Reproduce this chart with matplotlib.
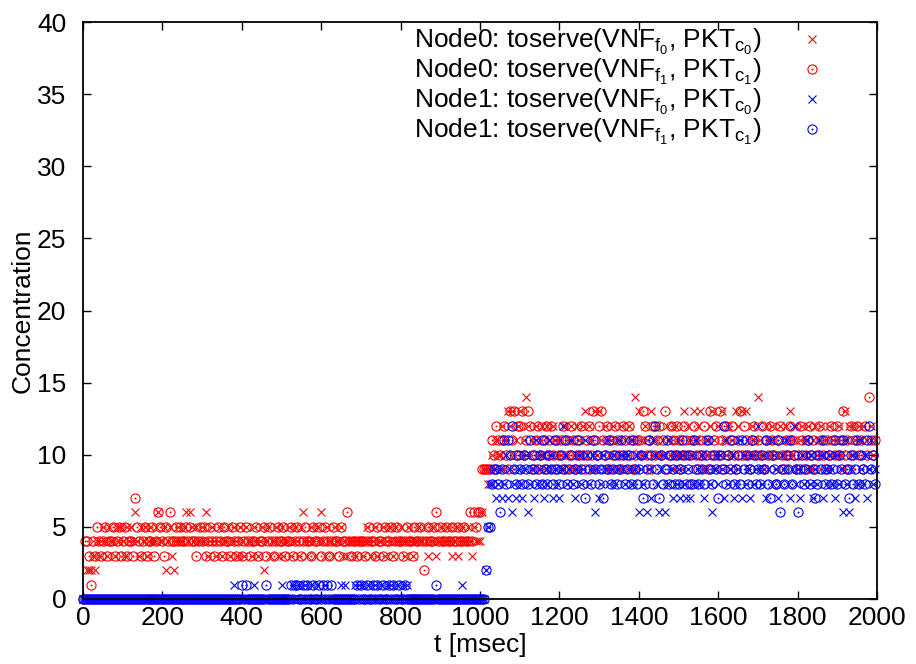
import numpy as np
import matplotlib
matplotlib.use("Agg")
import matplotlib.pyplot as plt
from matplotlib.legend_handler import HandlerTuple

plt.rcParams["font.family"] = ["Liberation Sans", "DejaVu Sans"]
plt.rcParams["mathtext.fontset"] = "custom"
plt.rcParams["mathtext.rm"] = "Liberation Sans"
plt.rcParams["mathtext.it"] = "Liberation Sans"
plt.rcParams["mathtext.default"] = "regular"

# sampling instants, one every 5 msec (each row below covers 100 msec)
t_msec = np.arange(0, 2000, 5)

# Node0: toserve(VNF_f0, PKT_c0)
node0_f0 = [
    0, 0, 2, 2, 2, 3, 2, 4, 3, 4, 5, 4, 3, 5, 4, 4, 3, 5, 4, 5,
    4, 3, 5, 4, 5, 4, 6, 4, 3, 5, 4, 5, 3, 4, 5, 4, 4, 5, 6, 4,
    4, 5, 2, 4, 5, 3, 2, 4, 5, 4, 4, 5, 6, 4, 6, 5, 4, 5, 4, 4,
    5, 4, 6, 3, 4, 5, 4, 3, 4, 5, 3, 4, 4, 5, 3, 4, 5, 4, 3, 5,
    4, 3, 5, 4, 4, 3, 5, 4, 3, 4, 5, 2, 4, 5, 3, 4, 4, 5, 3, 4,
    5, 3, 4, 4, 5, 3, 4, 5, 4, 3, 5, 6, 4, 3, 4, 5, 4, 3, 5, 4,
    6, 4, 3, 5, 4, 4, 3, 5, 4, 4, 5, 3, 4, 3, 4, 4, 4, 3, 4, 4,
    4, 3, 4, 5, 4, 3, 4, 5, 3, 4, 4, 5, 3, 4, 5, 4, 3, 5, 4, 4,
    5, 4, 3, 4, 5, 4, 3, 4, 4, 5, 4, 4, 5, 4, 3, 4, 5, 4, 3, 4,
    4, 5, 4, 4, 5, 4, 3, 4, 5, 3, 4, 5, 4, 4, 5, 4, 3, 5, 4, 4,
    4, 6, 9, 9, 8, 9, 10, 9, 11, 10, 10, 12, 9, 11, 13, 12, 13, 10, 11, 12,
    13, 10, 11, 14, 12, 10, 11, 9, 12, 10, 11, 12, 10, 9, 12, 11, 10, 12, 11, 10,
    11, 10, 9, 12, 10, 11, 12, 9, 10, 12, 11, 10, 12, 13, 10, 12, 11, 9, 13, 10,
    13, 11, 10, 12, 9, 10, 11, 12, 10, 11, 9, 12, 10, 11, 10, 12, 9, 11, 14, 10,
    13, 11, 10, 12, 11, 9, 13, 10, 11, 12, 10, 9, 11, 10, 12, 11, 10, 9, 12, 11,
    10, 11, 9, 13, 10, 12, 11, 10, 13, 11, 12, 13, 10, 9, 11, 10, 12, 13, 11, 9,
    12, 10, 13, 11, 10, 12, 9, 11, 10, 13, 12, 11, 13, 10, 13, 11, 10, 12, 11, 10,
    14, 11, 10, 9, 12, 11, 10, 12, 11, 9, 10, 12, 11, 10, 12, 11, 13, 10, 11, 12,
    9, 11, 12, 10, 11, 12, 10, 9, 11, 12, 10, 11, 12, 10, 11, 9, 12, 10, 11, 10,
    11, 12, 10, 9, 13, 11, 12, 10, 12, 11, 10, 12, 11, 12, 10, 11, 9, 12, 10, 11,
]

# Node0: toserve(VNF_f1, PKT_c1)
node0_f1 = [
    0, 4, 4, 3, 1, 4, 3, 5, 4, 3, 4, 5, 3, 4, 4, 5, 3, 4, 5, 3,
    4, 5, 3, 4, 4, 3, 7, 5, 4, 3, 4, 5, 3, 4, 4, 5, 3, 4, 6, 5,
    4, 3, 5, 4, 6, 4, 4, 5, 4, 5, 4, 4, 5, 4, 5, 4, 4, 3, 4, 5,
    4, 5, 3, 4, 5, 4, 3, 4, 5, 4, 3, 5, 4, 4, 3, 5, 4, 3, 4, 5,
    3, 4, 5, 4, 3, 4, 4, 5, 3, 4, 4, 5, 3, 4, 5, 4, 3, 4, 5, 4,
    4, 5, 3, 4, 4, 5, 3, 4, 5, 4, 3, 4, 5, 4, 4, 3, 5, 4, 4, 5,
    3, 4, 5, 4, 3, 4, 5, 4, 4, 3, 5, 4, 4, 6, 4, 3, 4, 4, 3, 4,
    4, 4, 3, 4, 5, 4, 4, 3, 5, 4, 4, 3, 5, 4, 4, 5, 3, 4, 5, 4,
    4, 3, 4, 5, 4, 4, 3, 5, 4, 4, 5, 4, 2, 4, 5, 4, 4, 5, 6, 4,
    5, 4, 4, 5, 4, 4, 5, 4, 4, 5, 4, 4, 5, 4, 4, 6, 4, 6, 5, 6,
    6, 9, 9, 9, 9, 9, 11, 10, 12, 11, 10, 11, 12, 10, 9, 13, 11, 13, 10, 12,
    12, 13, 10, 11, 13, 12, 10, 9, 11, 12, 10, 11, 9, 12, 10, 11, 12, 10, 9, 11,
    10, 11, 12, 9, 11, 10, 12, 11, 9, 10, 11, 12, 10, 9, 11, 12, 10, 13, 11, 10,
    12, 13, 11, 10, 12, 9, 11, 10, 12, 11, 10, 9, 12, 11, 10, 12, 11, 9, 10, 11,
    11, 10, 13, 12, 10, 11, 9, 12, 10, 11, 12, 10, 11, 13, 9, 10, 12, 11, 10, 12,
    11, 9, 10, 12, 11, 10, 8, 11, 12, 10, 9, 11, 10, 12, 11, 9, 13, 10, 11, 12,
    10, 13, 11, 9, 12, 10, 11, 12, 10, 9, 11, 13, 10, 12, 11, 10, 9, 11, 12, 10,
    11, 10, 12, 9, 11, 10, 12, 11, 10, 8, 11, 12, 10, 9, 11, 10, 12, 11, 10, 9,
    10, 12, 11, 9, 10, 11, 12, 10, 11, 9, 10, 12, 11, 10, 9, 11, 10, 12, 11, 10,
    12, 10, 11, 13, 10, 11, 9, 12, 10, 11, 12, 10, 11, 9, 12, 10, 14, 11, 10, 11,
]

# Node1: toserve(VNF_f0, PKT_c0)
node1_f0 = [
    0, 0, 0, 0, 0, 0, 0, 0, 0, 0, 0, 0, 0, 0, 0, 0, 0, 0, 0, 0,
    0, 0, 0, 0, 0, 0, 0, 0, 0, 0, 0, 0, 0, 0, 0, 0, 0, 0, 0, 0,
    0, 0, 0, 0, 0, 0, 0, 0, 0, 0, 0, 0, 0, 0, 0, 0, 0, 0, 0, 0,
    0, 0, 0, 0, 0, 0, 0, 0, 0, 0, 0, 0, 0, 0, 0, 0, 1, 0, 0, 0,
    0, 0, 0, 0, 0, 0, 1, 0, 0, 0, 0, 0, 0, 0, 0, 0, 0, 0, 0, 0,
    1, 0, 0, 0, 0, 0, 1, 0, 0, 1, 0, 0, 1, 0, 0, 1, 0, 0, 1, 0,
    0, 0, 1, 0, 0, 0, 0, 0, 0, 0, 1, 0, 1, 0, 0, 0, 0, 1, 0, 1,
    0, 1, 0, 0, 1, 0, 0, 1, 0, 0, 1, 0, 0, 1, 0, 1, 0, 0, 1, 0,
    0, 1, 0, 1, 0, 0, 0, 0, 0, 0, 0, 0, 0, 0, 0, 0, 0, 0, 0, 0,
    0, 0, 0, 0, 0, 0, 0, 0, 0, 0, 0, 1, 0, 0, 0, 0, 0, 0, 0, 0,
    0, 0, 0, 2, 5, 8, 8, 9, 7, 8, 9, 7, 8, 10, 7, 9, 6, 8, 7, 9,
    8, 7, 9, 10, 6, 8, 9, 7, 11, 8, 9, 10, 7, 8, 9, 11, 10, 7, 9, 8,
    7, 9, 12, 10, 8, 9, 11, 8, 7, 9, 10, 8, 9, 11, 10, 8, 9, 10, 6, 9,
    7, 8, 10, 9, 11, 8, 9, 10, 8, 9, 11, 10, 9, 8, 10, 9, 11, 8, 9, 10,
    6, 9, 8, 10, 6, 9, 7, 11, 10, 8, 6, 9, 10, 6, 8, 11, 9, 7, 10, 8,
    9, 7, 10, 8, 7, 9, 7, 10, 8, 11, 9, 8, 10, 7, 9, 11, 8, 6, 9, 10,
    8, 10, 9, 7, 11, 8, 9, 10, 7, 8, 9, 11, 7, 10, 8, 9, 7, 10, 8, 9,
    12, 9, 8, 10, 7, 9, 11, 8, 10, 9, 7, 8, 10, 9, 11, 8, 7, 9, 12, 8,
    9, 7, 10, 8, 11, 9, 8, 10, 7, 9, 8, 11, 10, 7, 9, 8, 10, 9, 8, 7,
    10, 8, 9, 6, 11, 8, 6, 9, 10, 7, 8, 11, 9, 8, 10, 7, 9, 11, 8, 9,
]

# Node1: toserve(VNF_f1, PKT_c1)
node1_f1 = [
    0, 0, 0, 0, 0, 0, 0, 0, 0, 0, 0, 0, 0, 0, 0, 0, 0, 0, 0, 0,
    0, 0, 0, 0, 0, 0, 0, 0, 0, 0, 0, 0, 0, 0, 0, 0, 0, 0, 0, 0,
    0, 0, 0, 0, 0, 0, 0, 0, 0, 0, 0, 0, 0, 0, 0, 0, 0, 0, 0, 0,
    0, 0, 0, 0, 0, 0, 0, 0, 0, 0, 0, 0, 0, 0, 0, 0, 0, 0, 0, 0,
    1, 0, 1, 0, 0, 0, 0, 0, 0, 0, 0, 0, 1, 0, 0, 0, 0, 0, 0, 0,
    0, 0, 0, 0, 0, 1, 0, 1, 1, 0, 0, 1, 0, 1, 0, 0, 1, 0, 0, 1,
    0, 1, 0, 1, 0, 1, 0, 0, 0, 0, 0, 0, 0, 0, 0, 0, 0, 0, 1, 0,
    1, 0, 0, 1, 0, 0, 1, 0, 1, 0, 0, 1, 0, 0, 1, 0, 1, 0, 0, 1,
    0, 0, 1, 0, 0, 0, 0, 0, 0, 0, 0, 0, 0, 0, 0, 0, 0, 0, 1, 0,
    0, 0, 0, 0, 0, 0, 0, 0, 0, 0, 0, 0, 0, 0, 0, 0, 0, 0, 0, 0,
    0, 0, 0, 2, 5, 5, 8, 9, 9, 8, 6, 9, 11, 8, 11, 10, 12, 9, 8, 10,
    9, 8, 10, 9, 8, 11, 9, 10, 8, 9, 10, 8, 11, 9, 8, 10, 9, 8, 11, 9,
    8, 10, 9, 11, 8, 9, 10, 8, 9, 11, 10, 9, 8, 7, 10, 9, 8, 11, 9, 10,
    8, 9, 7, 10, 9, 11, 8, 9, 10, 8, 9, 11, 10, 8, 9, 10, 8, 11, 9, 8,
    9, 10, 7, 8, 9, 11, 10, 8, 12, 9, 7, 10, 8, 9, 11, 8, 10, 9, 8, 10,
    8, 9, 11, 10, 8, 9, 10, 8, 11, 9, 8, 10, 9, 8, 10, 11, 9, 8, 10, 9,
    7, 10, 9, 12, 8, 10, 9, 11, 8, 9, 10, 8, 11, 9, 10, 8, 9, 11, 10, 8,
    9, 8, 10, 9, 11, 8, 7, 10, 9, 8, 11, 6, 9, 8, 10, 9, 11, 8, 10, 9,
    6, 9, 10, 8, 9, 11, 8, 10, 9, 7, 8, 10, 9, 11, 8, 9, 10, 8, 9, 11,
    8, 10, 9, 11, 8, 9, 7, 10, 8, 9, 11, 8, 10, 9, 8, 11, 12, 9, 10, 8,
]

for series in (node0_f0, node0_f1, node1_f0, node1_f1):
    assert len(series) == len(t_msec)

labels = [
    r"Node0: toserve(VNF$_{f_0}$, PKT$_{c_0}$)",
    r"Node0: toserve(VNF$_{f_1}$, PKT$_{c_1}$)",
    r"Node1: toserve(VNF$_{f_0}$, PKT$_{c_0}$)",
    r"Node1: toserve(VNF$_{f_1}$, PKT$_{c_1}$)",
]

FS = 19
fig = plt.figure(figsize=(9.16, 6.64), dpi=100)
ax = fig.add_axes([83 / 916, 65 / 664, 794 / 916, 577 / 664])

RED = "#ff0000"
BLUE = "#0000ff"


def cross(y, color):
    (h,) = ax.plot(t_msec, y, linestyle="none", marker="x", ms=6.0,
                   mew=0.8, color=color, clip_on=False)
    return h


def dotted_circle(y, color):
    (c,) = ax.plot(t_msec, y, linestyle="none", marker="o", ms=6.6,
                   mew=0.8, mfc="none", mec=color, clip_on=False)
    (d,) = ax.plot(t_msec, y, linestyle="none", marker="o", ms=1.4,
                   mew=0, color=color, clip_on=False)
    return (c, d)


h0 = cross(node0_f0, RED)
h1 = dotted_circle(node0_f1, RED)
h2 = cross(node1_f0, BLUE)
h3 = dotted_circle(node1_f1, BLUE)

ax.set_xlim(0, 2000)
ax.set_ylim(0, 40)
ax.set_xticks(np.arange(0, 2001, 200))
ax.set_yticks(np.arange(0, 41, 5))
ax.tick_params(direction="in", length=6, width=1, labelsize=FS,
               top=True, right=True)
ax.tick_params(axis="x", pad=5)
ax.tick_params(axis="y", pad=12)
for s in ax.spines.values():
    s.set_linewidth(1.3)

ax.set_xlabel("t [msec]", fontsize=FS, labelpad=2)
ax.set_ylabel("Concentration", fontsize=FS, labelpad=2)

leg = ax.legend([h0, h1, h2, h3], labels, loc="upper right",
                bbox_to_anchor=(0.9446, 0.9915), frameon=False, fontsize=FS,
                markerfirst=False, handlelength=1.6, handletextpad=1.1,
                labelspacing=0.0, borderpad=0, borderaxespad=0,
                handler_map={tuple: HandlerTuple(ndivide=1, pad=0)})

fig.savefig("out.png", dpi=100)
